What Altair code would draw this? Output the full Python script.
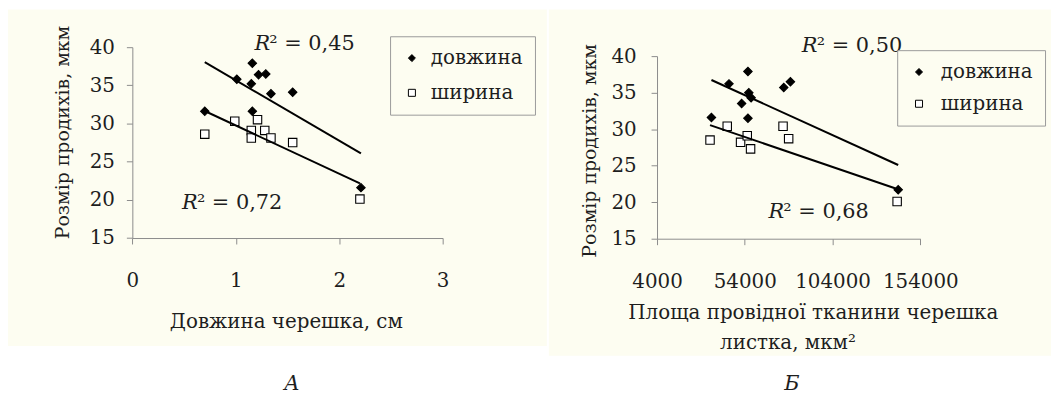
import altair as alt
import pandas as pd

# ---------------- data ----------------
series_names = ["довжина", "ширина"]

# panel A: x = petiole length, cm
a_len_x = [0.70, 1.01, 1.15, 1.16, 1.22, 1.29, 1.34, 1.55, 1.16, 2.21]
a_len_y = [31.6, 35.8, 35.2, 37.9, 36.4, 36.5, 33.9, 34.1, 31.6, 21.6]
a_wid_x = [0.70, 0.99, 1.15, 1.15, 1.21, 1.28, 1.34, 1.55, 2.20]
a_wid_y = [28.6, 30.3, 29.1, 28.1, 30.5, 29.1, 28.1, 27.5, 20.1]

# panel B: x = conducting tissue area, um^2
b_len_x = [35000, 45000, 52200, 55800, 55800, 56300, 57600, 76200, 80000, 141400]
b_len_y = [31.6, 36.2, 33.5, 37.9, 31.5, 35.0, 34.3, 35.7, 36.5, 21.7]
b_wid_x = [34200, 44000, 51600, 55400, 57300, 75800, 79000, 140800]
b_wid_y = [28.5, 30.4, 28.2, 29.1, 27.3, 30.4, 28.7, 20.1]

r2_a_values = ["0,45", "0,72"]
r2_a_x = [1.18, 0.48]
r2_a_y = [40.4, 19.6]
r2_b_values = ["0,50", "0,68"]
r2_b_x = [86500, 67500]
r2_b_y = [41.4, 18.7]

a_x_ticks = [0, 1, 2, 3]
b_x_ticks = [4000, 54000, 104000, 154000]
y_ticks = [15, 20, 25, 30, 35, 40]

a_x_title = "Довжина черешка, см"
b_x_title = ["Площа провідної тканини черешка", "листка, мкм²"]
y_title = "Розмір продихів, мкм"
captions = ["А", "Б"]

# ---------------- styling ----------------
FONT = "DejaVu Serif"
CREAM = "#fdfdf1"
TXT = "#1e1e1e"
AXC = "#8c8c8c"
W, H = 1051, 387
LAB = 20      # tick labels
TIT = 20      # x-axis titles
YTIT = 19     # y-axis titles
LEG = 20      # legend labels
R2S = 21      # R^2 annotations


def frame(xl, yl, xw, yw):
    rows = [{"x": x, "y": y, "series": series_names[0]} for x, y in zip(xl, yl)]
    rows += [{"x": x, "y": y, "series": series_names[1]} for x, y in zip(xw, yw)]
    return pd.DataFrame(rows)


def x_axis(values, title, offset, tx, ty):
    return alt.Axis(orient="bottom", offset=offset, values=values, format="d",
                    title=title, titleX=tx, titleY=ty, titleAlign="center",
                    titleBaseline="alphabetic", titleAngle=0, titleFont=FONT,
                    titleFontSize=TIT, titleFontWeight="normal", titleColor=TXT,
                    labelFont=FONT, labelFontSize=LAB,
                    labelColor=TXT, labelPadding=27, tickSize=6, tickColor=AXC,
                    domainColor=AXC, grid=False, labelFlush=False, labelOverlap=False,
                    zindex=2)


def y_axis(offset, tx, ty, lpad):
    return alt.Axis(orient="left", offset=offset, values=y_ticks, format="d",
                    title=y_title, titleX=tx, titleY=ty, titleAlign="center",
                    titleBaseline="alphabetic", titleAngle=270, titleFont=FONT,
                    titleFontSize=YTIT, titleFontWeight="normal", titleColor=TXT,
                    labelFont=FONT, labelFontSize=LAB, labelColor=TXT,
                    labelPadding=lpad, tickSize=6, tickColor=AXC, domainColor=AXC,
                    grid=False, labelFlush=False, labelOverlap=False, zindex=2)


def legend(lx, ly, rpad, loff):
    return alt.Legend(orient="none", legendX=lx, legendY=ly, title=None,
                      labelFont=FONT, labelFontSize=LEG, labelColor=TXT,
                      labelOffset=loff, symbolSize=50, symbolStrokeColor="black",
                      symbolStrokeWidth=1, strokeColor="#9a9a9a", padding=12,
                      rowPadding=rpad, fillColor=CREAM, direction="vertical")


def panel(df, r2_vals, r2_x, r2_y, x_enc, y_enc, leg):
    shape = alt.Shape("series:N", legend=leg,
                      scale=alt.Scale(domain=series_names, range=["diamond", "square"]))
    fill = alt.Fill("series:N", legend=leg,
                    scale=alt.Scale(domain=series_names, range=["black", "white"]))
    stroke = alt.Stroke("series:N", legend=leg,
                        scale=alt.Scale(domain=series_names, range=["black", "black"]))
    pts = alt.Chart(df).mark_point(filled=True, strokeWidth=1.1,
                                   opacity=1, size=72).encode(
        x=x_enc, y=y_enc, shape=shape, fill=fill, stroke=stroke)
    reg = alt.Chart(df).transform_regression("x", "y", groupby=["series"]).mark_line(
        color="black", strokeWidth=2).encode(x=x_enc, y=y_enc, detail="series:N")
    tdf = pd.DataFrame({"x": r2_x, "y": r2_y, "v": ["² = " + v for v in r2_vals]})
    t_r = alt.Chart(tdf).mark_text(text="R", font=FONT, fontSize=R2S, fontStyle="italic",
                                   align="left", baseline="middle", color=TXT).encode(
        x=x_enc, y=y_enc)
    t_v = alt.Chart(tdf).mark_text(font=FONT, fontSize=R2S, align="left",
                                   baseline="middle", dx=15, color=TXT).encode(
        x=x_enc, y=y_enc, text="v:N")
    return alt.layer(pts, reg, t_r, t_v)


df_a = frame(a_len_x, a_len_y, a_wid_x, a_wid_y)
df_b = frame(b_len_x, b_len_y, b_wid_x, b_wid_y)

xa = alt.X("x:Q", scale=alt.Scale(domain=[0, 3], range=[125.3, 438], nice=False, zero=False),
           axis=x_axis(a_x_ticks, a_x_title, -156.7, 280, 90.5))
ya = alt.Y("y:Q", scale=alt.Scale(domain=[15, 40], range=[230.3, 38], nice=False, zero=False),
           axis=y_axis(-125.3, -64.3, 123.5, 12))
xb = alt.X("x:Q", scale=alt.Scale(domain=[4000, 154000], range=[654, 919.3], nice=False, zero=False),
           axis=x_axis(b_x_ticks, b_x_title[0], -156, 811, 80))
yb = alt.Y("y:Q", scale=alt.Scale(domain=[15, 40], range=[231, 47], nice=False, zero=False),
           axis=y_axis(-654, -62, 142, 15))

panel_a = panel(df_a, r2_a_values, r2_a_x, r2_a_y, xa, ya, legend(385, 27, 15, 9))
panel_b = panel(df_b, r2_b_values, r2_b_x, r2_b_y, xb, yb, legend(896, 41, 12, 12))

one = pd.DataFrame({"k": [0]})
bg_a = alt.Chart(one).mark_rect(color=CREAM).encode(
    x=alt.value(0), x2=alt.value(543), y=alt.value(0), y2=alt.value(339))
bg_b = alt.Chart(one).mark_rect(color=CREAM).encode(
    x=alt.value(545), x2=alt.value(W), y=alt.value(0), y2=alt.value(349))

# second line of panel B's x-axis title
title_b2 = alt.Chart(pd.DataFrame({"t": [b_x_title[1]]})).mark_text(
    font=FONT, fontSize=TIT, color=TXT, align="center", baseline="alphabetic").encode(
    text="t:N", x=alt.value(786), y=alt.value(342))

cap_a = alt.Chart(pd.DataFrame({"t": [captions[0]]})).mark_text(
    font=FONT, fontSize=21, fontStyle="italic", color=TXT, baseline="middle").encode(
    text="t:N", x=alt.value(286), y=alt.value(377))
cap_b = alt.Chart(pd.DataFrame({"t": [captions[1]]})).mark_text(
    font=FONT, fontSize=21, fontStyle="italic", color=TXT, baseline="middle").encode(
    text="t:N", x=alt.value(790), y=alt.value(377))

chart = alt.layer(bg_a, bg_b, panel_a, panel_b, title_b2, cap_a, cap_b).resolve_scale(
    x="independent", y="independent", shape="independent", fill="independent",
    stroke="independent"
).properties(
    width=W, height=H, padding=0, background="white",
    autosize=alt.AutoSizeParams(type="none")
).configure_view(strokeWidth=0)

chart.save("out.html", embed_options={"renderer": "svg", "actions": False})
